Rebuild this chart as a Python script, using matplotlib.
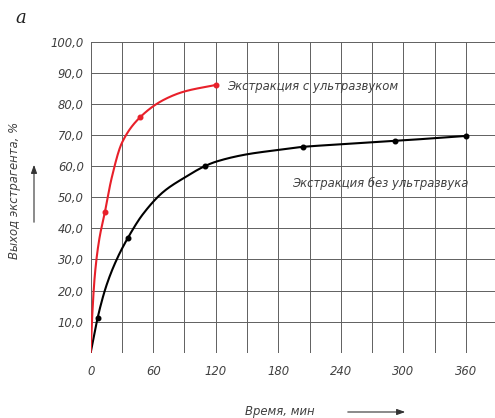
import numpy as np
import matplotlib
matplotlib.use("Agg")
import matplotlib.pyplot as plt

# traced curve of extraction with ultrasound (time, min ; yield, %)
us_t = [0, 1.5, 4, 8, 13.7, 20, 30, 47.4, 70, 90, 120]
us_y = [0, 12, 25, 36, 45.3, 56, 67.5, 75.7, 81.3, 84.0, 86.1]
# measured points with ultrasound
us_pt_t = [13.7, 47.4, 120]
us_pt_y = [45.3, 75.7, 86.1]

# traced curve without ultrasound
no_t = [0, 6.7, 15, 25, 35.5, 50, 70, 90, 109.6, 120, 150, 180, 204, 240, 292, 360]
no_y = [0, 11.3, 21.5, 30, 36.8, 44.5, 51.8, 56.3, 60.0, 61.4, 63.8, 65.2, 66.2, 67.0, 68.1, 69.7]
no_pt_t = [6.7, 35.5, 109.6, 204, 292, 360]
no_pt_y = [11.3, 36.8, 60.0, 66.2, 68.1, 69.7]

x_ticks = [0, 60, 120, 180, 240, 300, 360]
y_ticks = [0, 10, 20, 30, 40, 50, 60, 70, 80, 90, 100]
y_labels = ["", "10,0", "20,0", "30,0", "40,0", "50,0", "60,0", "70,0", "80,0", "90,0", "100,0"]


# monotone cubic (pchip) so the drawn curve is smooth
def pchip(x, y, n=400):
    x = np.asarray(x, float)
    y = np.asarray(y, float)
    h = np.diff(x)
    d = np.diff(y) / h
    m = np.zeros_like(y)
    for k in range(1, len(x) - 1):
        if d[k - 1] * d[k] > 0:
            w1 = 2 * h[k] + h[k - 1]
            w2 = h[k] + 2 * h[k - 1]
            m[k] = (w1 + w2) / (w1 / d[k - 1] + w2 / d[k])
    m[0] = d[0]
    m[-1] = d[-1]
    xs = np.linspace(x[0], x[-1], n)
    idx = np.clip(np.searchsorted(x, xs) - 1, 0, len(h) - 1)
    t = (xs - x[idx]) / h[idx]
    h00 = 2 * t**3 - 3 * t**2 + 1
    h10 = t**3 - 2 * t**2 + t
    h01 = -2 * t**3 + 3 * t**2
    h11 = t**3 - t**2
    ys = h00 * y[idx] + h10 * h[idx] * m[idx] + h01 * y[idx + 1] + h11 * h[idx] * m[idx + 1]
    return xs, ys


font = dict(family="DejaVu Sans", style="italic", color="#404040")
fs = 8.4

fig = plt.figure(figsize=(4.95, 4.18), dpi=100)
ax = fig.add_axes([0.1832, 0.1562, 1 - 0.1832, 0.9002 - 0.1562])

ax.set_xlim(0, 388)
ax.set_ylim(0, 100)
ax.set_xticks(np.arange(0, 388, 30))
ax.set_yticks(y_ticks)
ax.grid(True, color="#606060", lw=0.7)
for s in ax.spines.values():
    s.set_visible(False)
ax.tick_params(length=0)
ax.set_yticklabels(y_labels, fontsize=fs, **font)
ax.tick_params(axis="y", pad=5)
ax.set_xticklabels([])
for xv in x_ticks:
    ax.text(xv, -6.2, str(xv), ha="center", va="center", fontsize=fs, **font)

xs, ys = pchip(no_t, no_y)
ax.plot(xs, ys, color="black", lw=1.5, zorder=3)
ax.plot(no_pt_t, no_pt_y, "o", color="black", ms=3.3, zorder=4)
xs, ys = pchip(us_t, us_y)
ax.plot(xs, ys, color="#e8202a", lw=1.5, zorder=3)
ax.plot(us_pt_t, us_pt_y, "o", color="#e8202a", ms=3.3, zorder=4)

ax.text(131, 85.5, "Экстракция с ультразвуком", ha="left", va="center", fontsize=fs, **font)
ax.text(193, 54.4, "Экстракция без ультразвука", ha="left", va="center", fontsize=fs, **font)

fig.text(15 / 495, 1 - 18 / 418, "а", family="DejaVu Serif", style="italic", fontsize=13,
         ha="left", va="center", color="#222")
fig.text(15 / 495, 1 - 190 / 418, "Выход экстрагента, %", rotation=90, ha="center", va="center",
         fontsize=fs, **font)
fig.text(280 / 495, 1 - 412 / 418, "Время, мин", ha="center", va="center", fontsize=fs, **font)

fig.add_artist(matplotlib.patches.FancyArrowPatch((34 / 495, 1 - 225 / 418), (34 / 495, 1 - 162 / 418),
               transform=fig.transFigure, arrowstyle="-|>,head_length=5,head_width=1.8",
               color="#333", lw=0.8))
fig.add_artist(matplotlib.patches.FancyArrowPatch((345 / 495, 1 - 412 / 418), (408 / 495, 1 - 412 / 418),
               transform=fig.transFigure, arrowstyle="-|>,head_length=5,head_width=1.8",
               color="#333", lw=0.8))

fig.savefig("out.png", dpi=100)
